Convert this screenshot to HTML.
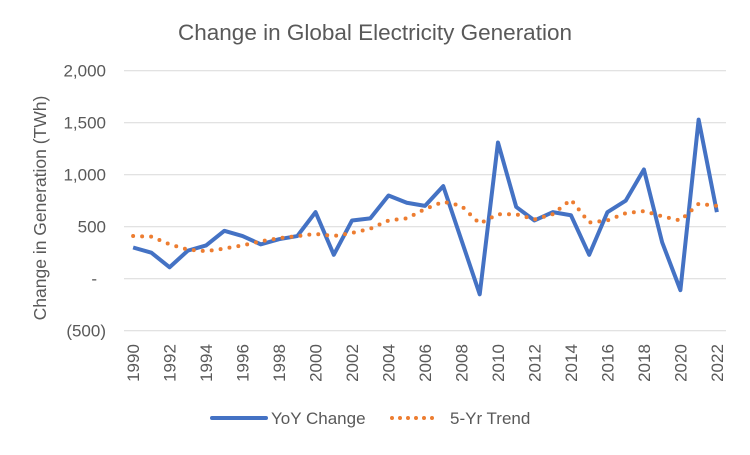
<!DOCTYPE html>
<html><head><meta charset="utf-8"><style>
body{margin:0;background:#fff;font-family:"Liberation Sans",sans-serif}
svg text{font-family:"Liberation Sans",sans-serif;fill:#595959}
</style></head><body>
<svg id="c" width="750" height="450">
<text x="375" y="40" text-anchor="middle" font-size="22.5">Change in Global Electricity Generation</text>
<text transform="translate(46,208) rotate(-90)" text-anchor="middle" font-size="17.5">Change in Generation (TWh)</text>
<g id="grid"></g><g id="yt"></g><g id="xt"></g><g id="series"></g>
<g>
<line x1="212" y1="418" x2="266" y2="418" stroke="#4472C4" stroke-width="4" stroke-linecap="round"/>
<text x="271" y="424" font-size="17">YoY Change</text>
<line x1="392" y1="418" x2="440" y2="418" stroke="#ED7D31" stroke-width="4" stroke-dasharray="0 8" stroke-linecap="round"/>
<text x="450" y="424" font-size="17">5-Yr Trend</text>
</g>
</svg>
<script>
const years=[];for(let y=1990;y<=2022;y++)years.push(y);
const yoy=[300,250,110,270,320,460,410,330,380,410,640,230,560,580,800,730,700,890,370,-150,1310,690,560,640,610,230,640,750,1050,350,-110,1530,640];
const trend=[410,405,330,280,265,290,320,360,390,410,430,410,440,480,560,580,670,740,700,530,620,620,570,620,760,540,560,630,650,600,560,720,700];
const yTicks=[2000,1500,1000,500,0,-500];
const yTickLabels=["2,000","1,500","1,000","500","-","(500)"];
const L=124,R=726,n=years.length,bw=(R-L)/n;
const X=i=>L+bw*(i+0.5);
const Y=v=>278.7-v*52/500;
const ns="http://www.w3.org/2000/svg";
function mk(t,a,p){const e=document.createElementNS(ns,t);for(const k in a)e.setAttribute(k,a[k]);p.appendChild(e);return e;}
const grid=document.getElementById('grid'),yt=document.getElementById('yt'),xt=document.getElementById('xt'),se=document.getElementById('series');
yTicks.forEach((v,i)=>{
 const l=mk('line',{x1:L,x2:R,y1:Y(v),y2:Y(v),stroke:'#d9d9d9','stroke-width':1},grid);
 
 
 const t=mk('text',{x:i==4?97:106,y:Y(v)+6,'text-anchor':'end','font-size':17},yt);
 t.textContent=yTickLabels[i];
 
 
});
years.forEach((y,i)=>{
 if(i%2)return;
 const t=mk('text',{transform:`translate(${X(i)+6},363) rotate(-90)`,'text-anchor':'middle','font-size':17},xt);
 t.textContent=y;
 
 
});
const p1=mk('polyline',{points:yoy.map((v,i)=>X(i)+','+Y(v)).join(' '),fill:'none',stroke:'#4472C4','stroke-width':4,'stroke-linejoin':'round'},se);


const p2=mk('polyline',{points:trend.map((v,i)=>X(i)+','+Y(v)).join(' '),fill:'none',stroke:'#ED7D31','stroke-width':4,'stroke-dasharray':'0 9','stroke-linecap':'round'},se);


</script>
</body></html>
